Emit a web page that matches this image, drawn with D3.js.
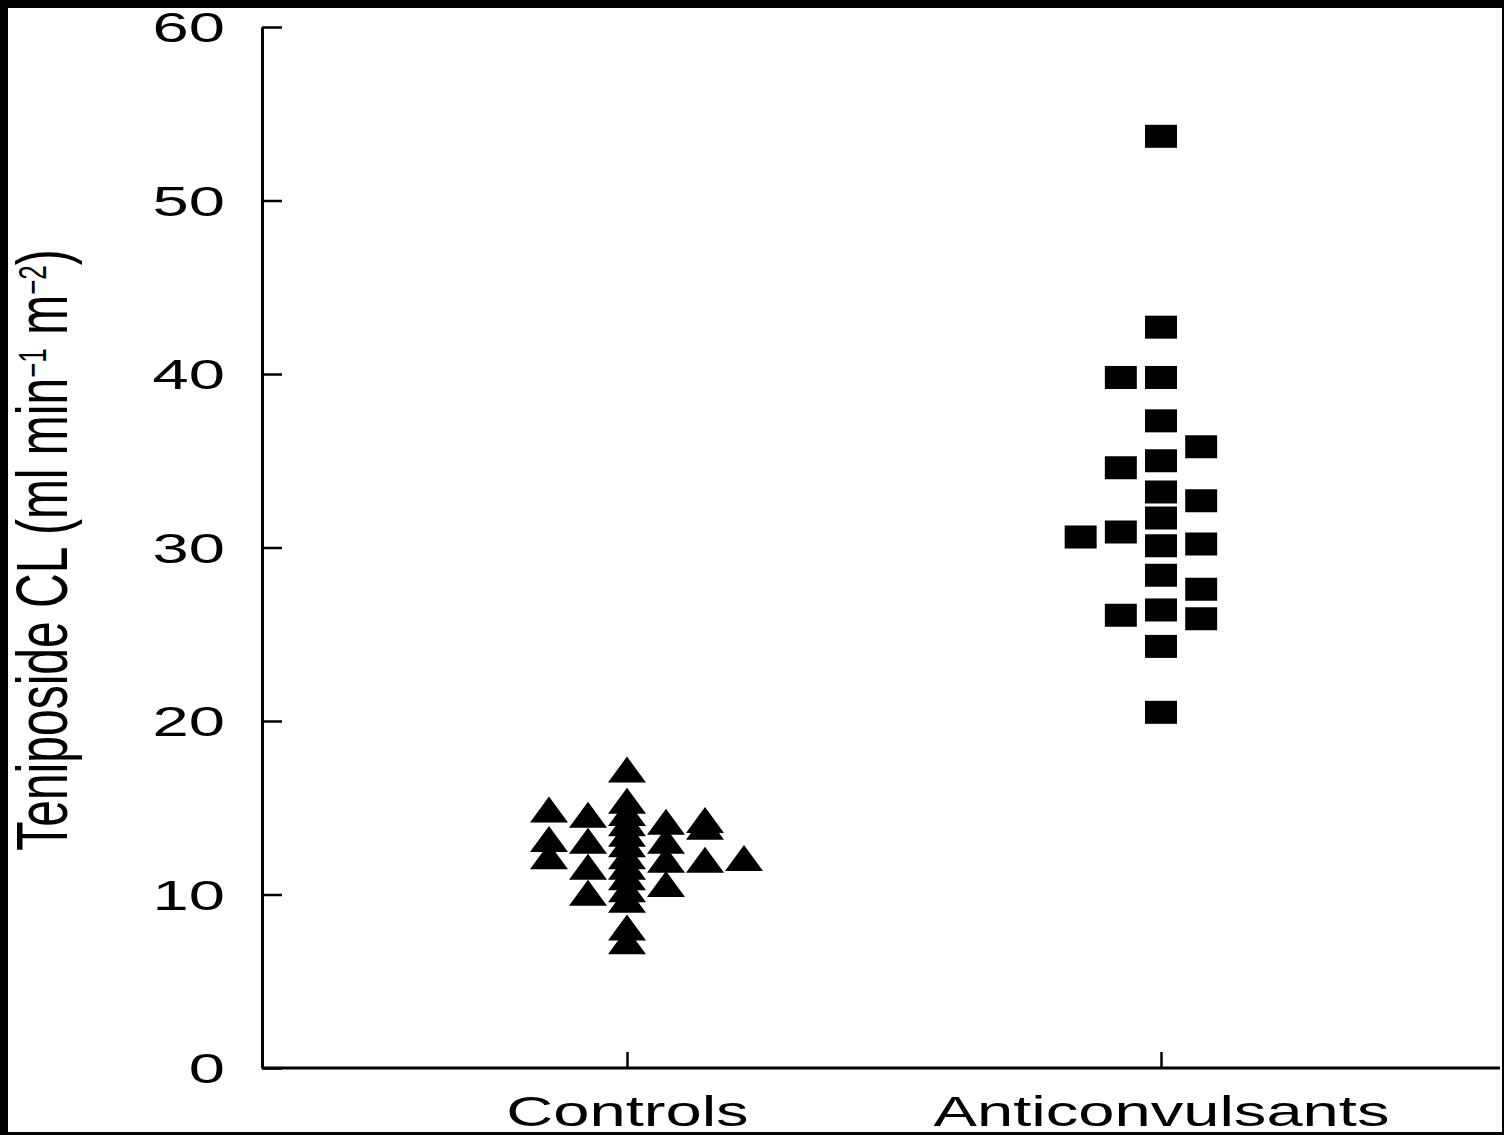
<!DOCTYPE html>
<html>
<head>
<meta charset="utf-8">
<script src="https://cdn.jsdelivr.net/npm/d3@7"></script>
<style>
  body { margin: 0; background: #000; }
  svg { display: block; }
</style>
</head>
<body>
<script>
// categories and tick labels
var categories = ["Controls", "Anticonvulsants"];
var yTicks = [0, 10, 20, 30, 40, 50, 60];

// Controls (triangles): clearance value + dot-plot column slot
var controlsCL   = [14.9, 13.2, 12.2,
                    14.6, 13.1, 11.6, 10.1,
                    17.2, 15.4, 14.7, 14.1, 13.5, 12.9, 12.2, 11.6, 11.0, 10.3, 9.7, 8.1, 7.3,
                    14.2, 13.1, 12.0, 10.6,
                    14.3, 13.9, 12.0,
                    12.1];
var controlsSlot = [-2, -2, -2,
                    -1, -1, -1, -1,
                    0, 0, 0, 0, 0, 0, 0, 0, 0, 0, 0, 0, 0,
                    1, 1, 1, 1,
                    2, 2, 2,
                    3];

// Anticonvulsants (squares)
var anticonvCL   = [30.6,
                    39.8, 34.6, 30.9, 26.1,
                    53.7, 42.7, 39.8, 37.3, 35.0, 33.2, 31.7, 30.1, 28.4, 26.4, 24.3, 20.5,
                    35.8, 32.7, 30.2, 27.6, 25.9];
var anticonvSlot = [-2,
                    -1, -1, -1, -1,
                    0, 0, 0, 0, 0, 0, 0, 0, 0, 0, 0, 0,
                    1, 1, 1, 1, 1];

var main = function() {
  var width = 1504, height = 1135;
  var left = 262, right = 1500, top = 27, bottom = 1068;
  var stretch = 1.55; // picture is stretched sideways

  var svg = d3.select("body").append("svg")
              .attr("width", width)
              .attr("height", height);

  // white page inside the black frame
  svg.append("rect")
     .attr("x", 8).attr("y", 8)
     .attr("width", 1494).attr("height", 1124)
     .attr("fill", "#fff");

  var y = d3.scaleLinear().domain([0, 60]).range([bottom, top]);
  var x = d3.scalePoint().domain(categories).range([627, 1161]);
  var slot = d3.scaleLinear().domain([0, 1]).range([0, 39]);

  // y axis, ticks pointing inward
  var yAxis = svg.append("g")
                 .attr("transform", "translate(" + left + ",0)")
                 .call(d3.axisLeft(y).tickValues(yTicks).tickSize(-20).tickSizeOuter(0));
  yAxis.select(".domain").attr("stroke-width", 3);
  yAxis.selectAll(".tick line").attr("stroke-width", 2.5);
  yAxis.selectAll(".tick text")
       .attr("x", null).attr("dy", null)
       .attr("transform", "translate(-37,0) scale(" + stretch + ",1)")
       .attr("dominant-baseline", "central")
       .attr("text-anchor", "end")
       .attr("font-family", "Liberation Sans, Arial, sans-serif")
       .attr("font-size", "42px")
       .attr("fill", "#000");

  // x axis, ticks pointing upward
  var xAxis = svg.append("g")
                 .attr("transform", "translate(0," + bottom + ")")
                 .call(d3.axisBottom(x).tickSize(-16).tickSizeOuter(0));
  xAxis.select(".domain").attr("d", "M" + left + ",0H" + right).attr("stroke-width", 3);
  xAxis.selectAll(".tick line").attr("stroke-width", 2.5);
  xAxis.selectAll(".tick text")
       .attr("y", null).attr("dy", null)
       .attr("transform", "translate(0,58) scale(" + stretch + ",1)")
       .attr("text-anchor", "middle")
       .attr("font-family", "Liberation Sans, Arial, sans-serif")
       .attr("font-size", "42px")
       .attr("fill", "#000");

  // y axis title
  var title = svg.append("text")
                 .attr("transform", "translate(67,550) scale(1.5,1) rotate(-90)")
                 .attr("text-anchor", "middle")
                 .attr("font-family", "Liberation Sans, Arial, sans-serif")
                 .attr("font-size", "48px")
                 .attr("fill", "#000");
  title.append("tspan").text("Teniposide CL (ml min");
  title.append("tspan").attr("dy", -14).attr("font-size", "26px").text("\u22121");
  title.append("tspan").attr("dy", 14).text(" m");
  title.append("tspan").attr("dy", -14).attr("font-size", "26px").text("\u22122");
  title.append("tspan").attr("dy", 14).text(")");

  // triangle with its box centred on the point
  var triBox = {
    draw: function(ctx, size) {
      var w = 38, h = 26;
      ctx.moveTo(0, -h / 2);
      ctx.lineTo(w / 2, h / 2);
      ctx.lineTo(-w / 2, h / 2);
      ctx.closePath();
    }
  };

  var controls = controlsCL.map(function(v, i) { return {v: v, s: controlsSlot[i]}; });
  var anticonv = anticonvCL.map(function(v, i) { return {v: v, s: anticonvSlot[i]}; });

  svg.append("g").selectAll("path")
     .data(controls)
     .enter()
       .append("path")
       .attr("d", d3.symbol(triBox))
       .attr("transform", function(d) {
         return "translate(" + (x("Controls") + slot(d.s)) + "," + y(d.v) + ")";
       })
       .attr("fill", "#000");

  svg.append("g").selectAll("path")
     .data(anticonv)
     .enter()
       .append("path")
       .attr("d", d3.symbol(d3.symbolSquare, 23 * 23))
       .attr("transform", function(d) {
         return "translate(" + (x("Anticonvulsants") + slot(d.s) * 1.03) + "," + y(d.v) + ") scale(1.39,1)";
       })
       .attr("fill", "#000");

  // bottom edge of the black frame
  svg.append("rect").attr("x", 0).attr("y", 1132).attr("width", width).attr("height", 3).attr("fill", "#000");
};

main();
</script>
</body>
</html>
